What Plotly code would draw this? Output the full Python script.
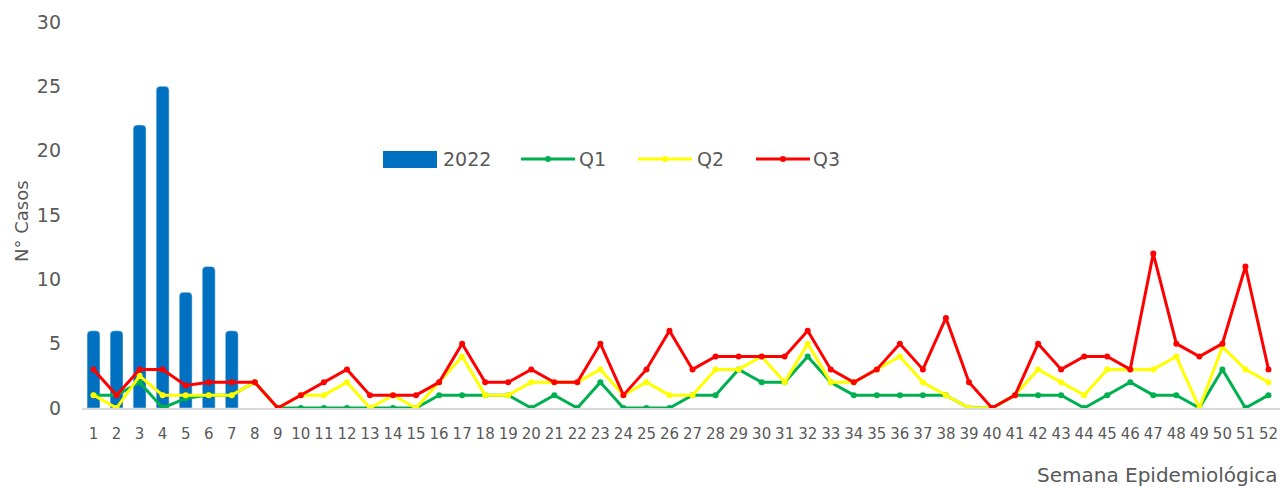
import plotly.graph_objects as go

weeks = list(range(1, 53))
week_labels = [str(w) for w in weeks]

cases_2022 = [6, 6, 22, 25, 9, 11, 6] + [None] * 45

q1 = [1, 1, 2, 0, 0.75, 1, 1, 2, 0, 0, 0, 0, 0, 0, 0, 1, 1, 1, 1, 0,
      1, 0, 2, 0, 0, 0, 1, 1, 3, 2, 2, 4, 2, 1, 1, 1, 1, 1, 0, 0,
      1, 1, 1, 0, 1, 2, 1, 1, 0, 3, 0, 1]
q2 = [1, 0, 2.5, 1, 1, 1, 1, 2, 0, 1, 1, 2, 0, 1, 0, 2, 4, 1, 1, 2,
      2, 2, 3, 1, 2, 1, 1, 3, 3, 4, 2, 5, 2, 2, 3, 4, 2, 1, 0, 0,
      1, 3, 2, 1, 3, 3, 3, 4, 0, 4.75, 3, 2]
q3 = [3, 1, 3, 3, 1.75, 2, 2, 2, 0, 1, 2, 3, 1, 1, 1, 2, 5, 2, 2, 3,
      2, 2, 5, 1, 3, 6, 3, 4, 4, 4, 4, 6, 3, 2, 3, 5, 3, 7, 2, 0,
      1, 5, 3, 4, 4, 3, 12, 5, 4, 5, 11, 3]

series_names = ["2022", "Q1", "Q2", "Q3"]
series_colors = ["#0070C0", "#00B050", "#FFFF00", "#FF0000"]

FONT = "DejaVu Sans, Verdana, sans-serif"
TXT = "#595959"

W, H = 1280, 488
ML, MR, MT, MB = 82, 0, 22, 80
PW, PH = W - ML - MR, H - MT - MB


def px(x):
    return (x - ML) / PW


def py(y):
    return (H - MB - y) / PH


fig = go.Figure()
fig.add_trace(go.Bar(x=weeks, y=cases_2022, name=series_names[0],
                     marker=dict(color=series_colors[0], cornerradius=4), width=0.56))
for name, vals, col in zip(series_names[1:], [q1, q2, q3], series_colors[1:]):
    fig.add_trace(go.Scatter(x=weeks, y=vals, name=name, mode="lines+markers",
                             line=dict(color=col, width=3),
                             marker=dict(size=6, color=col)))

fig.update_layout(
    width=W, height=H,
    margin=dict(l=ML, r=MR, t=MT, b=MB, autoexpand=False),
    plot_bgcolor="white", paper_bgcolor="white",
    font=dict(family=FONT, size=19, color=TXT),
    showlegend=False,
)
fig.update_xaxes(range=[0.5, 52.5], tickmode="array", tickvals=weeks, ticktext=week_labels,
                 showgrid=False, showline=True, linecolor="#D9D9D9", linewidth=1.5,
                 ticks="", tickfont=dict(family=FONT, size=15, color=TXT), tickangle=0,
                 automargin=False, ticklabelstandoff=11)
fig.update_yaxes(range=[0, 30], dtick=5, showgrid=False, zeroline=False, ticks="",
                 ticklabelstandoff=20, tickfont=dict(family=FONT, size=19, color=TXT),
                 automargin=False)

# axis titles
fig.add_annotation(text="N° Casos", xref="paper", yref="paper", x=px(21), y=py(221),
                   xanchor="center", yanchor="middle", textangle=-90, showarrow=False,
                   font=dict(family=FONT, size=18, color=TXT))
fig.add_annotation(text="Semana Epidemiológica", xref="paper", yref="paper", x=px(1280), y=py(475),
                   xanchor="right", yanchor="middle", showarrow=False,
                   font=dict(family=FONT, size=20, color=TXT))

# manual legend
shapes = []
shapes.append(dict(type="rect", xref="paper", yref="paper", x0=px(383), x1=px(437),
                   y0=py(168), y1=py(151), fillcolor=series_colors[0], line=dict(width=0)))
fig.add_annotation(text=series_names[0], xref="paper", yref="paper", x=px(441), y=py(159),
                   xanchor="left", yanchor="middle", showarrow=False,
                   font=dict(family=FONT, size=19, color=TXT))
for (x0, x1, xt), name, col in zip([(521, 575, 577), (638, 692, 695), (756, 810, 811)],
                                   series_names[1:], series_colors[1:]):
    shapes.append(dict(type="line", xref="paper", yref="paper", x0=px(x0), x1=px(x1),
                       y0=py(159), y1=py(159), line=dict(color=col, width=3)))
    cx = (x0 + x1) / 2
    shapes.append(dict(type="circle", xref="paper", yref="paper", x0=px(cx - 3), x1=px(cx + 3),
                       y0=py(162), y1=py(156), fillcolor=col, line=dict(color=col, width=0)))
    fig.add_annotation(text=name, xref="paper", yref="paper", x=px(xt), y=py(159),
                       xanchor="left", yanchor="middle", showarrow=False,
                       font=dict(family=FONT, size=19, color=TXT))
fig.update_layout(shapes=shapes)

fig.write_html("out.html", config={"displayModeBar": False},
               post_script="document.body.style.margin='0';document.body.style.overflow='hidden';")
